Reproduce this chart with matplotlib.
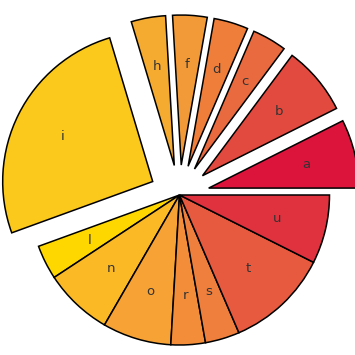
import matplotlib
matplotlib.use("Agg")
import matplotlib.pyplot as plt
import numpy as np

labels = ["a", "b", "c", "d", "f", "h", "i", "l", "n", "o", "r", "s", "t", "u"]
values = [2, 2, 1, 1, 1, 1, 7, 1, 2, 2, 1, 1, 3, 2]
exploded = [1, 1, 1, 1, 1, 1, 1, 0, 0, 0, 0, 0, 0, 0]
colors = ["#DC143C", "#E34A3F", "#E96A3E", "#EE7E3A", "#F39A38", "#F5AA30",
          "#FBC81C", "#FFD700", "#FBBA25", "#F7A234", "#F38D39", "#EE7F3C",
          "#E75A40", "#E0323E"]

fig = plt.figure(figsize=(3.55, 3.55), dpi=100)
ax = fig.add_axes([0, 0, 1, 1])
explode = [0.2 * e for e in exploded]
wedges, _ = ax.pie(values, explode=explode, colors=colors, startangle=0,
                   counterclock=True, radius=1.0,
                   wedgeprops=dict(edgecolor="black", linewidth=1.1))
for w, lab in zip(wedges, labels):
    mid = np.deg2rad((w.theta1 + w.theta2) / 2)
    cx, cy = w.center
    ax.text(cx + 0.67 * np.cos(mid), cy + 0.67 * np.sin(mid), lab,
            ha="center", va="center", fontsize=9.5, color="#333333")

ax.set_aspect("auto")
ax.set_xlim(-179.5 / 150, (355 - 179.5) / 150)
ax.set_ylim(-160 / 150, 195 / 150)
ax.axis("off")
fig.savefig("out.png", dpi=100)
